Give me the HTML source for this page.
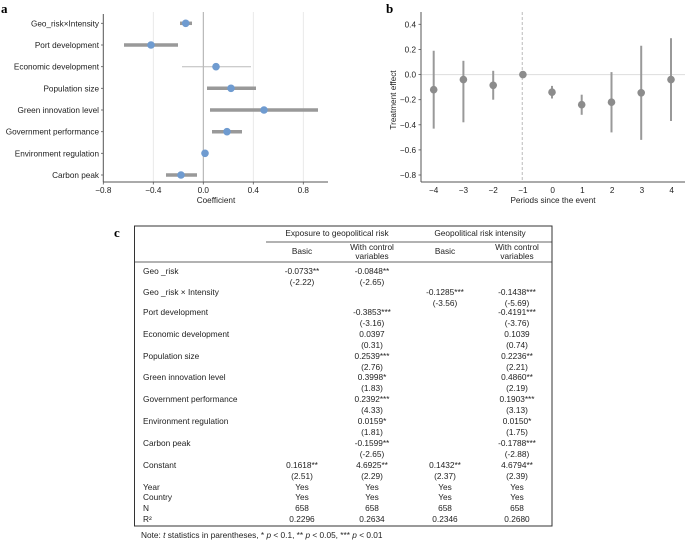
<!DOCTYPE html>
<html><head><meta charset="utf-8"><style>
html,body{margin:0;padding:0;background:#fff;}
svg{display:block;font-family:"Liberation Sans",Arial,sans-serif;}
</style></head><body>
<svg width="685" height="541" viewBox="0 0 685 541" xmlns="http://www.w3.org/2000/svg">
<!-- Panel a -->
<text x="1" y="13" font-family="Liberation Serif,serif" font-weight="bold" font-size="13">a</text>
<g stroke="#e3e3e3" stroke-width="0.8">
<line x1="153.3" y1="12" x2="153.3" y2="182"/><line x1="253.3" y1="12" x2="253.3" y2="182"/><line x1="303.3" y1="12" x2="303.3" y2="182"/>
</g>
<line x1="203.3" y1="12" x2="203.3" y2="182" stroke="#aaa" stroke-width="1"/>
<line x1="103.3" y1="14" x2="103.3" y2="182" stroke="#555" stroke-width="1"/>
<line x1="103.3" y1="182" x2="328" y2="182" stroke="#555" stroke-width="1"/>
<g stroke="#999" stroke-width="3.5">
<line x1="180" y1="23.3" x2="192" y2="23.3"/>
<line x1="124" y1="45" x2="178" y2="45"/>
<line x1="207" y1="88.3" x2="256" y2="88.3"/>
<line x1="210" y1="110" x2="318" y2="110"/>
<line x1="212" y1="131.7" x2="242" y2="131.7"/>
<line x1="166" y1="175" x2="197" y2="175"/>
</g>
<line x1="182" y1="66.7" x2="251" y2="66.7" stroke="#bbb" stroke-width="1"/>
<g fill="#6f9bd0">
<circle cx="185.7" cy="23.3" r="3.8"/><circle cx="151" cy="45" r="3.8"/><circle cx="216" cy="66.7" r="3.8"/><circle cx="231" cy="88.3" r="3.8"/><circle cx="264" cy="110" r="3.8"/><circle cx="227" cy="131.7" r="3.8"/><circle cx="205" cy="153.3" r="3.8"/><circle cx="181" cy="175" r="3.8"/>
</g>
<g font-size="8.2" fill="#222" text-anchor="end">
<text x="99" y="26.3">Geo_risk×Intensity</text><text x="99" y="48">Port development</text><text x="99" y="69.7">Economic development</text><text x="99" y="91.3">Population size</text><text x="99" y="113">Green innovation level</text><text x="99" y="134.7">Government performance</text><text x="99" y="156.3">Environment regulation</text><text x="99" y="178">Carbon peak</text>
</g>
<g stroke="#555" stroke-width="0.8">
<line x1="101" y1="23.3" x2="103.3" y2="23.3"/><line x1="101" y1="45" x2="103.3" y2="45"/><line x1="101" y1="66.7" x2="103.3" y2="66.7"/><line x1="101" y1="88.3" x2="103.3" y2="88.3"/><line x1="101" y1="110" x2="103.3" y2="110"/><line x1="101" y1="131.7" x2="103.3" y2="131.7"/><line x1="101" y1="153.3" x2="103.3" y2="153.3"/><line x1="101" y1="175" x2="103.3" y2="175"/>
<line x1="103.3" y1="182" x2="103.3" y2="184.5"/><line x1="153.3" y1="182" x2="153.3" y2="184.5"/><line x1="203.3" y1="182" x2="203.3" y2="184.5"/><line x1="253.3" y1="182" x2="253.3" y2="184.5"/><line x1="303.3" y1="182" x2="303.3" y2="184.5"/>
</g>
<g font-size="8.2" fill="#222" text-anchor="middle">
<text x="103.3" y="193">−0.8</text><text x="153.3" y="193">−0.4</text><text x="203.3" y="193">0.0</text><text x="253.3" y="193">0.4</text><text x="303.3" y="193">0.8</text>
<text x="216" y="203">Coefficient</text>
</g>
<!-- Panel b -->
<text x="386" y="13" font-family="Liberation Serif,serif" font-weight="bold" font-size="13">b</text>
<line x1="421" y1="74.6" x2="685" y2="74.6" stroke="#ddd" stroke-width="1"/>
<line x1="522.2" y1="12" x2="522.2" y2="182" stroke="#aaa" stroke-width="0.8" stroke-dasharray="3,2"/>
<line x1="421" y1="12" x2="421" y2="182" stroke="#555" stroke-width="1"/>
<line x1="421" y1="182" x2="685" y2="182" stroke="#555" stroke-width="1"/>
<g stroke="#999" stroke-width="2">
<line x1="433.7" y1="50.7" x2="433.7" y2="128.6"/>
<line x1="463.4" y1="60.8" x2="463.4" y2="122.3"/>
<line x1="493.2" y1="70.8" x2="493.2" y2="99.7"/>
<line x1="552" y1="85.9" x2="552" y2="98.5"/>
<line x1="581.7" y1="94.7" x2="581.7" y2="114.8"/>
<line x1="611.5" y1="72.1" x2="611.5" y2="132.4"/>
<line x1="641.2" y1="45.7" x2="641.2" y2="139.9"/>
<line x1="671" y1="38.2" x2="671" y2="121"/>
</g>
<g fill="#8c8c8c">
<circle cx="433.7" cy="89.7" r="3.8"/><circle cx="463.4" cy="79.6" r="3.8"/><circle cx="493.2" cy="85.3" r="3.8"/><circle cx="522.9" cy="74.6" r="3.8"/><circle cx="552" cy="92.2" r="3.8"/><circle cx="581.7" cy="104.7" r="3.8"/><circle cx="611.5" cy="102.2" r="3.8"/><circle cx="641.2" cy="92.8" r="3.8"/><circle cx="671" cy="79.6" r="3.8"/>
</g>
<g font-size="8.2" fill="#222" text-anchor="end">
<text x="416" y="27.3">0.4</text><text x="416" y="52.4">0.2</text><text x="416" y="77.6">0.0</text><text x="416" y="102.7">−0.2</text><text x="416" y="127.8">−0.4</text><text x="416" y="152.9">−0.6</text><text x="416" y="178">−0.8</text>
</g>
<g stroke="#555" stroke-width="0.8">
<line x1="418.5" y1="24.3" x2="421" y2="24.3"/><line x1="418.5" y1="49.4" x2="421" y2="49.4"/><line x1="418.5" y1="74.6" x2="421" y2="74.6"/><line x1="418.5" y1="99.7" x2="421" y2="99.7"/><line x1="418.5" y1="124.8" x2="421" y2="124.8"/><line x1="418.5" y1="149.9" x2="421" y2="149.9"/><line x1="418.5" y1="175" x2="421" y2="175"/>
</g>
<g font-size="8.2" fill="#222" text-anchor="middle">
<text x="433.7" y="193">−4</text><text x="463.4" y="193">−3</text><text x="493.2" y="193">−2</text><text x="522.9" y="193">−1</text><text x="552.7" y="193">0</text><text x="582.4" y="193">1</text><text x="612.2" y="193">2</text><text x="641.9" y="193">3</text><text x="671.7" y="193">4</text>
<text x="553" y="203">Periods since the event</text>
<text transform="translate(396,100) rotate(-90)">Treatment effect</text>
</g>
<!-- Panel c table -->
<text x="114" y="237" font-family="Liberation Serif,serif" font-weight="bold" font-size="13">c</text>
<rect x="134.5" y="226" width="417.5" height="300" fill="none" stroke="#333" stroke-width="1"/>
<line x1="266" y1="242" x2="552" y2="242" stroke="#333" stroke-width="0.8"/>
<line x1="134.5" y1="262" x2="552" y2="262" stroke="#333" stroke-width="0.8"/>
<g font-size="8.3" fill="#222" text-anchor="middle">
<text x="337" y="236">Exposure to geopolitical risk</text>
<text x="480" y="236">Geopolitical risk intensity</text>
<text x="302" y="254">Basic</text><text x="372" y="250">With control</text><text x="372" y="259">variables</text>
<text x="445" y="254">Basic</text><text x="517" y="250">With control</text><text x="517" y="259">variables</text>
</g>
<g font-size="8.3" fill="#222">
<text x="143" y="274">Geo _risk</text>
<text x="143" y="295">Geo _risk × Intensity</text>
<text x="143" y="315">Port development</text>
<text x="143" y="337">Economic development</text>
<text x="143" y="359">Population size</text>
<text x="143" y="380">Green innovation level</text>
<text x="143" y="402">Government performance</text>
<text x="143" y="424">Environment regulation</text>
<text x="143" y="446">Carbon peak</text>
<text x="143" y="468">Constant</text>
<text x="143" y="490">Year</text>
<text x="143" y="500">Country</text>
<text x="143" y="511">N</text>
<text x="143" y="522">R²</text>
</g>
<g font-size="8.3" fill="#222" text-anchor="middle">
<text x="302" y="274">-0.0733**</text><text x="302" y="285">(-2.22)</text>
<text x="372" y="274">-0.0848**</text><text x="372" y="285">(-2.65)</text>
<text x="445" y="295">-0.1285***</text><text x="445" y="306">(-3.56)</text>
<text x="517" y="295">-0.1438***</text><text x="517" y="306">(-5.69)</text>
<text x="372" y="315">-0.3853***</text><text x="372" y="326">(-3.16)</text>
<text x="517" y="315">-0.4191***</text><text x="517" y="326">(-3.76)</text>
<text x="372" y="337">0.0397</text><text x="372" y="348">(0.31)</text>
<text x="517" y="337">0.1039</text><text x="517" y="348">(0.74)</text>
<text x="372" y="359">0.2539***</text><text x="372" y="370">(2.76)</text>
<text x="517" y="359">0.2236**</text><text x="517" y="370">(2.21)</text>
<text x="372" y="380">0.3998*</text><text x="372" y="391">(1.83)</text>
<text x="517" y="380">0.4860**</text><text x="517" y="391">(2.19)</text>
<text x="372" y="402">0.2392***</text><text x="372" y="413">(4.33)</text>
<text x="517" y="402">0.1903***</text><text x="517" y="413">(3.13)</text>
<text x="372" y="424">0.0159*</text><text x="372" y="435">(1.81)</text>
<text x="517" y="424">0.0150*</text><text x="517" y="435">(1.75)</text>
<text x="372" y="446">-0.1599**</text><text x="372" y="457">(-2.65)</text>
<text x="517" y="446">-0.1788***</text><text x="517" y="457">(-2.88)</text>
<text x="302" y="468">0.1618**</text><text x="302" y="479">(2.51)</text>
<text x="372" y="468">4.6925**</text><text x="372" y="479">(2.29)</text>
<text x="445" y="468">0.1432**</text><text x="445" y="479">(2.37)</text>
<text x="517" y="468">4.6794**</text><text x="517" y="479">(2.39)</text>
<text x="302" y="490">Yes</text><text x="372" y="490">Yes</text><text x="445" y="490">Yes</text><text x="517" y="490">Yes</text>
<text x="302" y="500">Yes</text><text x="372" y="500">Yes</text><text x="445" y="500">Yes</text><text x="517" y="500">Yes</text>
<text x="302" y="511">658</text><text x="372" y="511">658</text><text x="445" y="511">658</text><text x="517" y="511">658</text>
<text x="302" y="522">0.2296</text><text x="372" y="522">0.2634</text><text x="445" y="522">0.2346</text><text x="517" y="522">0.2680</text>
</g>
<text x="141" y="538" font-size="8.3" fill="#222">Note: <tspan font-style="italic">t</tspan> statistics in parentheses, * <tspan font-style="italic">p</tspan> &lt; 0.1, ** <tspan font-style="italic">p</tspan> &lt; 0.05, *** <tspan font-style="italic">p</tspan> &lt; 0.01</text>
</svg>
</body></html>
